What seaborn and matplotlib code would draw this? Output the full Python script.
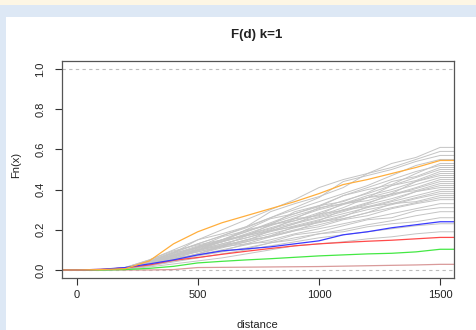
import matplotlib
matplotlib.use('Agg')
import matplotlib.pyplot as plt
import seaborn as sns
import pandas as pd
from matplotlib.patches import Rectangle

dist = [0, 100, 200, 300, 400, 500, 600, 700, 800, 900, 1000, 1100, 1200, 1300, 1400, 1500]

# simulated envelopes (gray)
sims = [
    [0, 0, 0.008, 0.040, 0.085, 0.150, 0.180, 0.215, 0.290, 0.330, 0.365, 0.410, 0.480, 0.530, 0.560, 0.610],
    [0, 0, 0.012, 0.050, 0.100, 0.150, 0.200, 0.250, 0.300, 0.350, 0.410, 0.450, 0.480, 0.510, 0.550, 0.590],
    [0, 0, 0.008, 0.040, 0.085, 0.130, 0.170, 0.210, 0.260, 0.310, 0.360, 0.440, 0.470, 0.500, 0.540, 0.570],
    [0, 0, 0.010, 0.045, 0.090, 0.130, 0.170, 0.215, 0.260, 0.300, 0.340, 0.380, 0.420, 0.470, 0.520, 0.550],
    [0, 0, 0.012, 0.050, 0.095, 0.125, 0.150, 0.200, 0.255, 0.280, 0.315, 0.370, 0.400, 0.425, 0.480, 0.530],
    [0, 0, 0.008, 0.035, 0.075, 0.115, 0.150, 0.190, 0.235, 0.280, 0.320, 0.370, 0.410, 0.450, 0.490, 0.520],
    [0, 0, 0.010, 0.035, 0.070, 0.115, 0.165, 0.195, 0.225, 0.290, 0.320, 0.340, 0.385, 0.440, 0.465, 0.510],
    [0, 0, 0.010, 0.040, 0.075, 0.110, 0.150, 0.190, 0.230, 0.270, 0.305, 0.345, 0.380, 0.420, 0.460, 0.500],
    [0, 0, 0.006, 0.045, 0.085, 0.110, 0.140, 0.200, 0.225, 0.255, 0.310, 0.330, 0.360, 0.420, 0.445, 0.490],
    [0, 0, 0.010, 0.035, 0.070, 0.105, 0.140, 0.180, 0.220, 0.260, 0.300, 0.330, 0.370, 0.400, 0.440, 0.480],
    [0, 0, 0.012, 0.035, 0.080, 0.120, 0.140, 0.170, 0.225, 0.245, 0.275, 0.330, 0.345, 0.380, 0.440, 0.470],
    [0, 0, 0.006, 0.030, 0.065, 0.100, 0.140, 0.175, 0.210, 0.245, 0.285, 0.325, 0.360, 0.390, 0.425, 0.460],
    [0, 0, 0.006, 0.040, 0.065, 0.095, 0.150, 0.170, 0.200, 0.255, 0.270, 0.310, 0.360, 0.375, 0.410, 0.450],
    [0, 0, 0.010, 0.040, 0.075, 0.110, 0.145, 0.175, 0.205, 0.235, 0.265, 0.300, 0.335, 0.370, 0.405, 0.440],
    [0, 0, 0.010, 0.028, 0.070, 0.100, 0.120, 0.170, 0.195, 0.230, 0.280, 0.295, 0.330, 0.380, 0.395, 0.430],
    [0, 0, 0.010, 0.035, 0.065, 0.100, 0.130, 0.160, 0.195, 0.230, 0.260, 0.290, 0.325, 0.355, 0.390, 0.420],
    [0, 0, 0.008, 0.035, 0.055, 0.095, 0.125, 0.145, 0.195, 0.215, 0.245, 0.300, 0.315, 0.345, 0.390, 0.410],
    [0, 0, 0.010, 0.035, 0.070, 0.100, 0.130, 0.160, 0.190, 0.220, 0.250, 0.280, 0.310, 0.340, 0.370, 0.400],
    [0, 0, 0.004, 0.030, 0.050, 0.080, 0.120, 0.140, 0.170, 0.215, 0.235, 0.265, 0.315, 0.330, 0.360, 0.390],
    [0, 0, 0.008, 0.030, 0.060, 0.090, 0.120, 0.150, 0.180, 0.210, 0.240, 0.270, 0.300, 0.325, 0.355, 0.380],
    [0, 0, 0.012, 0.030, 0.070, 0.090, 0.115, 0.150, 0.165, 0.195, 0.240, 0.255, 0.285, 0.330, 0.340, 0.370],
    [0, 0, 0.006, 0.025, 0.050, 0.080, 0.110, 0.140, 0.170, 0.200, 0.225, 0.255, 0.285, 0.310, 0.335, 0.360],
    [0, 0, 0.006, 0.035, 0.055, 0.080, 0.115, 0.130, 0.165, 0.195, 0.215, 0.250, 0.270, 0.305, 0.330, 0.350],
    [0, 0, 0.006, 0.025, 0.050, 0.075, 0.100, 0.125, 0.150, 0.180, 0.205, 0.230, 0.255, 0.280, 0.305, 0.330],
    [0, 0, 0.010, 0.025, 0.060, 0.075, 0.095, 0.130, 0.140, 0.175, 0.190, 0.220, 0.250, 0.260, 0.295, 0.310],
    [0, 0, 0.005, 0.020, 0.045, 0.070, 0.090, 0.110, 0.135, 0.160, 0.180, 0.200, 0.225, 0.245, 0.270, 0.290],
    [0, 0, 0.008, 0.030, 0.045, 0.075, 0.095, 0.105, 0.135, 0.150, 0.180, 0.190, 0.215, 0.230, 0.240, 0.260],
    [0, 0, 0.005, 0.020, 0.040, 0.060, 0.080, 0.100, 0.120, 0.140, 0.160, 0.175, 0.190, 0.205, 0.220, 0.230],
    [0, 0, 0.004, 0.015, 0.030, 0.045, 0.060, 0.080, 0.100, 0.120, 0.130, 0.140, 0.155, 0.165, 0.180, 0.190],
]

# observed curves
orange_vals = [0, 0.002, 0.006, 0.045, 0.130, 0.190, 0.235, 0.270, 0.305, 0.340, 0.380, 0.425, 0.450, 0.480, 0.510, 0.545]
blue_vals = [0, 0.003, 0.012, 0.030, 0.050, 0.075, 0.095, 0.105, 0.115, 0.130, 0.145, 0.175, 0.190, 0.210, 0.225, 0.240]
red_vals = [0, 0.003, 0.010, 0.025, 0.048, 0.062, 0.078, 0.093, 0.107, 0.120, 0.130, 0.137, 0.143, 0.148, 0.155, 0.162]
green_vals = [0, 0, 0.002, 0.008, 0.018, 0.035, 0.043, 0.050, 0.056, 0.063, 0.070, 0.075, 0.080, 0.083, 0.090, 0.103]
brown_vals = [0, 0, 0, 0, 0.002, 0.012, 0.013, 0.014, 0.015, 0.016, 0.017, 0.019, 0.021, 0.023, 0.025, 0.028]

x_ticks = [0, 500, 1000, 1500]
y_ticks = [0.0, 0.2, 0.4, 0.6, 0.8, 1.0]

sns.set_style('ticks')
plt.rcParams['font.family'] = ['Liberation Sans', 'DejaVu Sans']

W, H = 477, 330
fig = plt.figure(figsize=(W / 100, H / 100), dpi=100)
fig.patch.set_facecolor('white')
# page frame around the plot
fig.patches.append(Rectangle((0, 325 / H), 1, 5 / H, transform=fig.transFigure,
                             facecolor='#fdf6e4', edgecolor='none', zorder=0))
fig.patches.append(Rectangle((0, 313 / H), 1, 12 / H, transform=fig.transFigure,
                             facecolor='#dde8f5', edgecolor='none', zorder=0))
fig.patches.append(Rectangle((0, 0), 6 / W, 313 / H, transform=fig.transFigure,
                             facecolor='#dde8f5', edgecolor='none', zorder=0))

ax = fig.add_axes([62 / W, (H - 278) / H, (454 - 62) / W, (278 - 61) / H])
ax.set_facecolor('white')

xmin, xmax = -60, 1557


def extend(vals):
    # ecdf lines run on to both plot edges
    return [xmin] + dist + [xmax], [vals[0]] + vals + [vals[-1]]


rows = []
for i, s in enumerate(sims):
    xs, ys = extend(s)
    for x, y in zip(xs, ys):
        rows.append({'sim': i, 'distance': x, 'Fn': y})
sim_df = pd.DataFrame(rows)

sns.lineplot(data=sim_df, x='distance', y='Fn', units='sim', estimator=None,
             color='#c4c4c4', lw=0.7, ax=ax)

for vals, col in [(brown_vals, '#d99a9a'), (green_vals, '#44e844'),
                  (red_vals, '#ff4a4a'), (blue_vals, '#3a3aff'),
                  (orange_vals, '#ffae3c')]:
    xs, ys = extend(vals)
    sns.lineplot(x=xs, y=ys, color=col, lw=0.9, ax=ax)

for h in [0, 1]:
    ax.axhline(h, color='#bdbdbd', lw=0.8, ls=(0, (3, 3)), zorder=1)

ax.set_xlim(xmin, xmax)
ax.set_ylim(-0.04, 1.04)
ax.set_xticks(x_ticks)
ax.set_xticklabels([str(t) for t in x_ticks])
ax.set_yticks(y_ticks)
ax.set_yticklabels([f'{t:.1f}' for t in y_ticks], rotation=90, va='center')
ax.tick_params(axis='both', labelsize=8, length=5, width=0.8, colors='#333333',
               labelcolor='#222222')
ax.tick_params(axis='x', pad=4)
ax.tick_params(axis='y', pad=7)
for sp in ax.spines.values():
    sp.set_visible(True)
    sp.set_color('#555555')
    sp.set_linewidth(0.9)
ax.set_xlabel('')
ax.set_ylabel('')

fig.text(257 / W, 1 - 35 / H, 'F(d) k=1', ha='center', va='center',
         fontsize=9.6, fontweight='bold', color='#222222')
fig.text(257 / W, 1 - 325 / H, 'distance', ha='center', va='center',
         fontsize=8, color='#222222')
fig.text(16 / W, 1 - 165 / H, 'Fn(x)', ha='center', va='center', rotation=90,
         fontsize=8, color='#222222')

fig.savefig('out.png', dpi=100)
